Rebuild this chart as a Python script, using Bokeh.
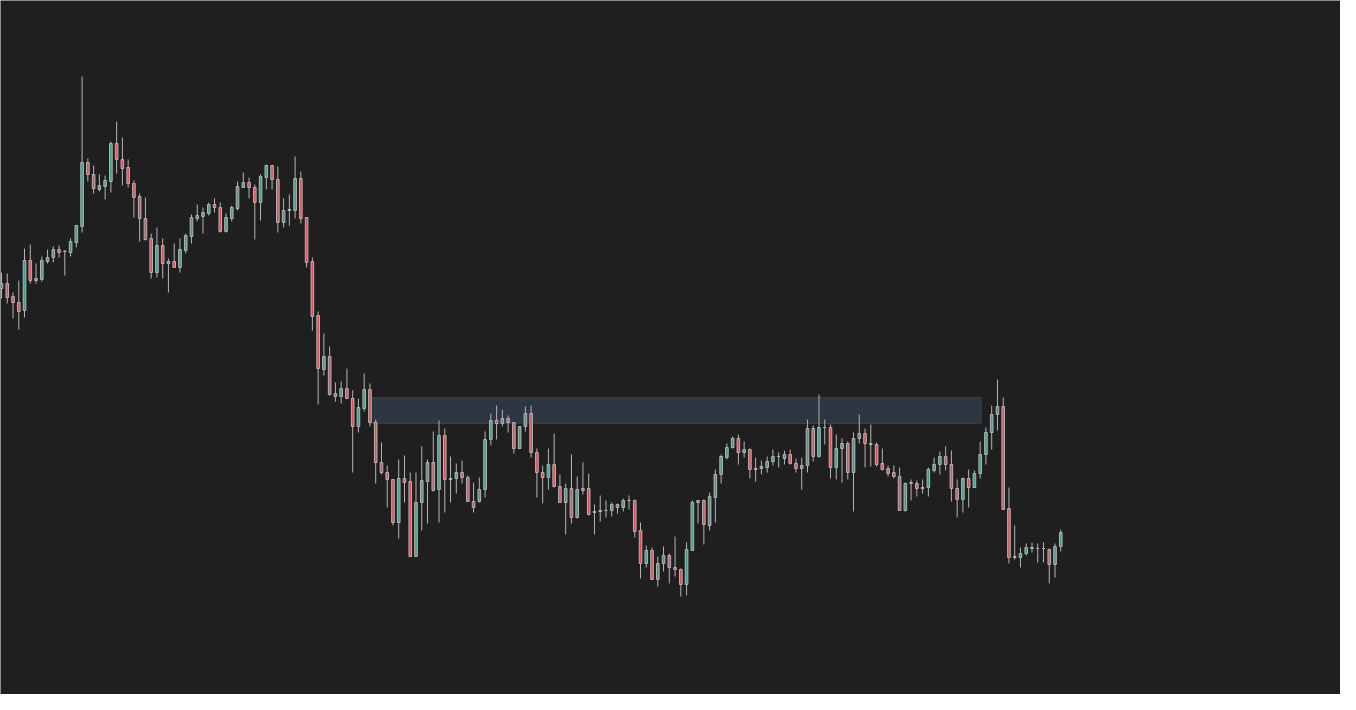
from bokeh.plotting import figure
from bokeh.models import ColumnDataSource, Range1d
from bokeh.embed import file_html
from bokeh.resources import INLINE

# price values (arbitrary units)
opens = [412, 417, 404, 398, 390, 440, 420, 421, 439, 443,
         451, 449.5, 448, 458, 474, 538, 526, 511, 514, 519,
         557, 541, 533, 517, 504, 482, 462, 428, 455, 437,
         439, 433, 450, 464, 482, 484, 487, 496, 493, 469,
         482, 492, 513, 518, 513, 498, 523, 535, 521, 478,
         490, 490, 522, 483, 439, 385, 331, 344, 307, 304,
         312, 302, 274, 292, 311, 278, 238, 228, 221, 178,
         222, 219, 144, 198, 219, 238, 211, 265, 221, 222,
         228, 223, 199, 199, 211, 261, 280, 277, 282, 278,
         252, 274, 287, 248, 228, 223, 236, 214, 198, 212,
         183, 210, 212, 188, 189, 190, 190, 196, 193, 200,
         200, 170, 137, 150, 121, 137, 145, 133, 131, 116,
         150, 198, 200, 175, 203, 226, 243, 253, 262, 248,
         251, 232, 232, 233, 239, 244, 242, 246, 237, 232,
         235, 272, 244, 273, 273, 233, 252, 257, 228, 262,
         267, 257, 256, 237, 232, 228, 224, 190, 217, 217,
         213, 213, 230, 236, 244, 236, 212, 201, 222, 213,
         227, 246, 268, 286, 294, 192, 144, 143, 147, 152,
         152, 152, 151, 136, 154]
closes = [417, 403, 398, 389, 440, 420, 422, 440, 443, 451,
          448, 449, 459, 475, 538, 526, 512, 515, 520, 557,
          541, 532, 517, 503, 482, 461, 428, 455, 437, 439,
          433, 451, 465, 483, 485, 488, 496, 493, 469, 483,
          493, 514, 518, 513, 498, 524, 535, 521, 478, 490,
          491, 522, 482, 438, 384, 332, 344, 306, 304, 312,
          302, 274, 293, 311, 278, 238, 228, 221, 178, 222,
          218, 144, 198, 220, 238, 210, 265, 221, 222, 228,
          223, 199, 193, 211, 261, 280, 277, 282, 278, 252,
          274, 287, 248, 228, 223, 236, 214, 198, 212, 183,
          211, 212, 186, 189, 190, 190, 196, 193, 200, 200,
          169, 137, 150, 121, 137, 145, 133, 131, 116, 151,
          198, 200, 176, 204, 226, 244, 253, 262, 248, 251,
          231, 231, 234, 239, 244, 244, 246, 237, 232, 235,
          272, 244, 273, 273, 233, 252, 257, 228, 262, 267,
          257, 256, 236, 231, 227, 224, 190, 217, 218, 212,
          212, 231, 236, 244, 236, 212, 201, 222, 213, 227,
          246, 268, 286, 294, 191, 143, 143, 147, 153, 153,
          152, 152, 136, 154, 168]
highs = [428, 427, 408, 420, 452, 456, 437, 444, 451, 454,
         455, 450, 462, 475, 624, 542, 535, 526, 525, 559,
         579, 563, 541, 520, 507, 503, 467, 473, 462, 442,
         457, 462, 467, 486, 496, 493, 498, 502, 498, 487,
         495, 519, 528, 523, 516, 526, 536, 535, 534, 502,
         506, 544, 529, 483, 443, 389, 367, 354, 318, 319,
         332, 310, 302, 327, 317, 281, 258, 235, 221, 241,
         245, 228, 228, 254, 241, 269, 280, 272, 244, 237,
         240, 225, 218, 223, 269, 287, 295, 291, 285, 278,
         274, 294, 295, 252, 235, 252, 267, 226, 217, 246,
         224, 238, 227, 196, 205, 200, 198, 197, 202, 205,
         201, 178, 155, 153, 144, 154, 147, 164, 132, 158,
         200, 200, 201, 208, 231, 246, 257, 264, 266, 259,
         252, 243, 240, 244, 251, 248, 250, 251, 242, 243,
         281, 275, 306, 281, 276, 266, 262, 259, 268, 286,
         272, 276, 258, 252, 235, 235, 233, 218, 221, 220,
         221, 233, 243, 249, 254, 250, 221, 223, 231, 230,
         259, 273, 295, 321, 303, 213, 175, 153, 157, 158,
         157, 158, 152, 157, 171]
lows = [402, 397, 382, 371, 383, 417, 417, 419, 437, 438,
        443, 425, 444, 453, 468, 519, 507, 509, 501, 508,
        527, 515, 513, 483, 459, 460, 422, 423, 422, 408,
        433, 428, 447, 457, 479, 467, 485, 488, 468, 468,
        479, 490, 513, 502, 461, 480, 511, 511, 468, 473,
        475, 482, 477, 433, 370, 296, 325, 305, 299, 297,
        302, 228, 268, 289, 274, 217, 226, 193, 175, 162,
        198, 144, 144, 170, 177, 209, 178, 188, 198, 207,
        217, 199, 188, 198, 203, 255, 261, 274, 268, 247,
        252, 269, 243, 203, 197, 211, 213, 198, 166, 177,
        182, 206, 185, 166, 179, 183, 184, 187, 189, 191,
        163, 122, 133, 121, 114, 129, 117, 124, 104, 105,
        150, 177, 156, 170, 178, 217, 241, 252, 236, 243,
        222, 219, 226, 228, 235, 233, 236, 236, 228, 211,
        228, 239, 243, 256, 222, 221, 218, 221, 189, 257,
        233, 234, 234, 230, 224, 222, 190, 189, 200, 204,
        207, 204, 228, 226, 230, 199, 183, 188, 193, 213,
        222, 236, 251, 270, 191, 137, 141, 133, 145, 148,
        138, 138, 117, 123, 149]

# shaded zone: bar span and price band
zone_start = 64.1
zone_end = 170.2
zone_low = 277
zone_high = 303

up_color = "#3f9f8b"
down_color = "#de5059"
wick_color = "#b5b5b5"
bg = "#1f1f1f"

bars = list(range(len(opens)))
fills = [up_color if c >= o else down_color for o, c in zip(opens, closes)]
src = ColumnDataSource(dict(x=bars, open=opens, close=closes, high=highs, low=lows, fill=fills))

p = figure(width=1340, height=694, output_backend="svg", toolbar_location=None,
           x_axis_type=None, y_axis_type=None, min_border=0,
           x_range=Range1d(-0.174, 232.59), y_range=Range1d(6, 700))
p.background_fill_color = bg
p.border_fill_color = bg
p.outline_line_color = None
p.grid.grid_line_color = None

p.quad(left=[zone_start], right=[zone_end], bottom=[zone_low], top=[zone_high],
       fill_color="#2e3641", line_color="#363e49", line_width=1)

p.segment(x0="x", y0="low", x1="x", y1="high", source=src, line_color=wick_color, line_width=1)
p.vbar(x="x", width=0.45, top="open", bottom="close", source=src,
       fill_color="fill", line_color=wick_color, line_width=1)

open("out.html", "w").write(file_html(p, INLINE))
